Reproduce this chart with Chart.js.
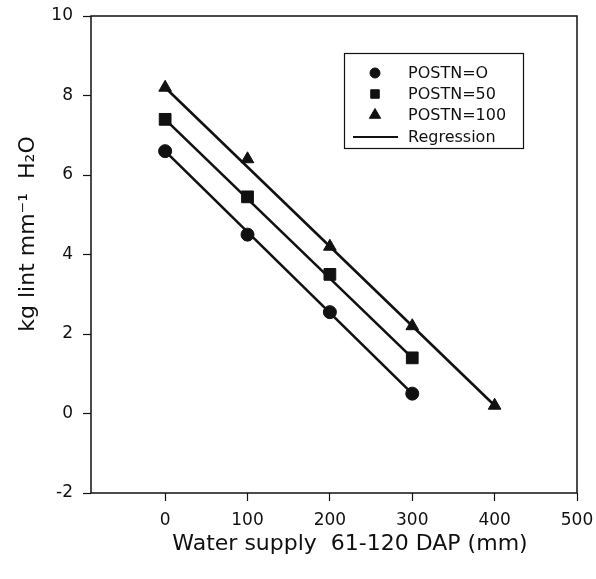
<!DOCTYPE html>
<html><head><meta charset="utf-8">
<script src="https://cdn.jsdelivr.net/npm/chart.js@4.4.0/dist/chart.umd.min.js"></script>
<style>html,body{margin:0;padding:0;background:#fff;}#wrap{width:596px;height:579px;}</style>
</head><body><div id="wrap"><canvas id="c" width="596" height="579"></canvas></div>
<script>
const waterSupply = [0, 100, 200, 300, 400];
const postn0 = [6.6, 4.5, 2.55, 0.5];
const postn50 = [7.4, 5.45, 3.5, 1.4];
const postn100 = [8.2, 6.4, 4.2, 2.2, 0.2];
// regression line ends: [x0, y0, x1, y1]
const reg0 = [0, 6.6, 300, 0.5];
const reg50 = [0, 7.4, 300, 1.4];
const reg100 = [0, 8.2, 400, 0.2];
const xTicks = [0, 100, 200, 300, 400, 500];
const yTicks = [-2, 0, 2, 4, 6, 8, 10];
const legendLabels = ['POSTN=O', 'POSTN=50', 'POSTN=100', 'Regression'];
const xTitle = 'Water supply  61-120 DAP (mm)';
const yTitle = 'kg lint mm\u207B\u00B9  H\u2082O';

const pts = (ys) => ys.map((y, i) => ({x: waterSupply[i], y}));
const seg = (r) => [{x: r[0], y: r[1]}, {x: r[2], y: r[3]}];
const ink = '#111';
const FONT = "'DejaVu Sans', sans-serif";

const frame = {
  id: 'frame',
  afterDraw(chart) {
    const {ctx, chartArea: a} = chart;
    ctx.save();
    ctx.strokeStyle = ink; ctx.lineWidth = 1.5;
    ctx.strokeRect(a.left, a.top, a.right - a.left, a.bottom - a.top);
    // axis titles
    ctx.fillStyle = ink;
    ctx.font = '22px ' + FONT;
    ctx.textAlign = 'center'; ctx.textBaseline = 'alphabetic';
    ctx.fillText(xTitle, 350, 550);
    ctx.save();
    ctx.translate(34, 234); ctx.rotate(-Math.PI / 2);
    ctx.fillText(yTitle, 0, 0);
    ctx.restore();
    // legend
    const bx = 344.5, by = 53.5, bw = 179, bh = 95;
    ctx.lineWidth = 1.2; ctx.strokeStyle = ink;
    ctx.strokeRect(bx, by, bw, bh);
    ctx.font = '16px ' + FONT;
    ctx.textBaseline = 'middle'; ctx.textAlign = 'left';
    const rows = [73, 94, 115, 137];
    const styles = ['circle', 'rect', 'triangle'];
    const radii = [5, 6, 6.5];
    for (let i = 0; i < 3; i++) {
      ctx.fillStyle = ink; ctx.strokeStyle = ink; ctx.lineWidth = 1;
      Chart.helpers.drawPoint(ctx, {pointStyle: styles[i], radius: radii[i], borderWidth: 1}, 375, rows[i]);
    }
    ctx.beginPath(); ctx.lineWidth = 2; ctx.strokeStyle = ink;
    ctx.moveTo(353, rows[3]); ctx.lineTo(398, rows[3]); ctx.stroke();
    ctx.fillStyle = ink;
    for (let i = 0; i < 4; i++) ctx.fillText(legendLabels[i], 408, rows[i] + 1);
    ctx.restore();
  }
};

const scatterDs = (label, data, style, r) => ({
  type: 'scatter', label, data, pointStyle: style, pointRadius: r,
  backgroundColor: ink, borderColor: ink, borderWidth: 1, showLine: false, order: 0
});
const lineDs = (data) => ({
  type: 'line', data, borderColor: ink, borderWidth: 2.6, pointRadius: 0, fill: false, order: 1
});

new Chart(document.getElementById('c'), {
  data: {
    datasets: [
      lineDs(seg(reg0)), lineDs(seg(reg50)), lineDs(seg(reg100)),
      scatterDs('POSTN=O', pts(postn0), 'circle', 6.5),
      scatterDs('POSTN=50', pts(postn50), 'rect', 8.3),
      scatterDs('POSTN=100', pts(postn100), 'triangle', 7.3)
    ]
  },
  plugins: [frame],
  options: {
    responsive: false, animation: false, devicePixelRatio: 1,
    layout: {padding: {top: 16, right: 19, left: 0, bottom: 0}},
    plugins: {legend: {display: false}, tooltip: {enabled: false}},
    scales: {
      x: {
        type: 'linear', min: -90, max: 500,
        afterBuildTicks: (s) => { s.ticks = xTicks.map(v => ({value: v})); },
        afterFit: (s) => { s.height = 86; s.paddingLeft = 0; s.paddingRight = 0; },
        grid: {drawOnChartArea: false, drawTicks: true, tickLength: 8, color: ink, tickColor: ink, tickWidth: 1.2},
        border: {display: false},
        ticks: {color: ink, font: {size: 17, family: FONT}, padding: 9, maxRotation: 0},
        title: {display: false, text: xTitle}
      },
      y: {
        type: 'linear', min: -2, max: 10,
        afterBuildTicks: (s) => { s.ticks = yTicks.map(v => ({value: v})); },
        afterFit: (s) => { s.width = 91; s.paddingTop = 0; s.paddingBottom = 0; },
        grid: {drawOnChartArea: false, drawTicks: true, tickLength: 8, color: ink, tickColor: ink, tickWidth: 1.2},
        border: {display: false},
        ticks: {color: ink, font: {size: 17, family: FONT}, padding: 10},
        title: {display: false, text: yTitle}
      }
    }
  }
});
</script></body></html>
